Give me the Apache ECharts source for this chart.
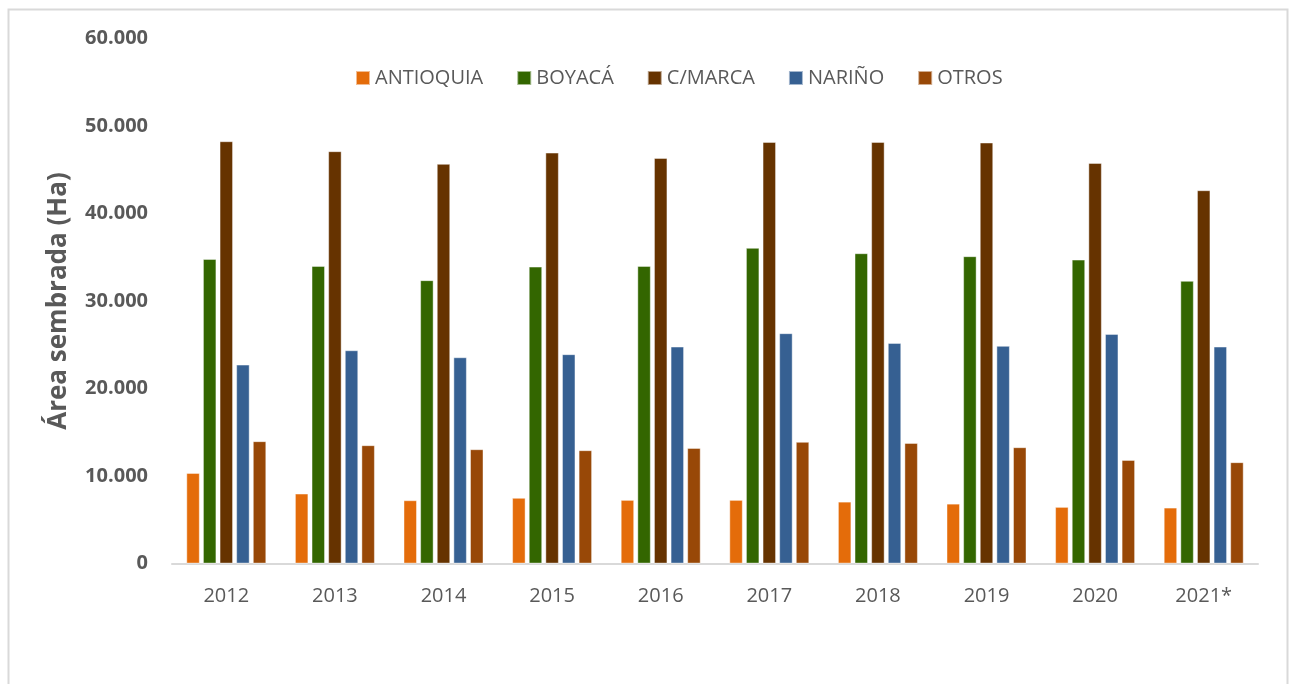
<!DOCTYPE html>
<html>
<head>
<meta charset="utf-8">
<script src="https://cdn.jsdelivr.net/npm/echarts@6/dist/echarts.min.js"></script>
<style>
html,body{margin:0;padding:0;background:#fff;}
#chart{width:1295px;height:684px;}
</style>
</head>
<body>
<div id="chart"></div>
<script>
const years = ['2012','2013','2014','2015','2016','2017','2018','2019','2020','2021*'];
const antioquia = [10340, 7980, 7220, 7490, 7260, 7260, 7060, 6830, 6460, 6380];
const boyaca    = [34800, 34000, 32370, 33920, 34000, 36060, 35450, 35110, 34720, 32290];
const cmarca    = [48250, 47110, 45660, 46950, 46340, 48170, 48170, 48100, 45770, 42650];
const narino    = [22720, 24360, 23560, 23910, 24780, 26310, 25200, 24860, 26230, 24780];
const otros     = [13970, 13510, 13050, 12940, 13200, 13890, 13770, 13280, 11830, 11570];
const seriesNames = ['ANTIOQUIA','BOYACÁ','C/MARCA','NARIÑO','OTROS'];
const seriesData = [antioquia, boyaca, cmarca, narino, otros];
const colors = ['#E46C0A','#336600','#663300','#366092','#984807'];

const chart = echarts.init(document.getElementById('chart'));
const FONT = "'Open Sans', sans-serif";
chart.setOption({
  animation: false,
  color: colors,
  textStyle: {fontFamily: FONT},
  graphic: [{
    type: 'rect',
    shape: {x: 8.5, y: 9.5, width: 1279, height: 700},
    style: {fill: 'none', stroke: '#D9D9D9', lineWidth: 2},
    silent: true
  }],
  legend: {
    left: 350, top: 63,
    itemWidth: 14, itemHeight: 14, itemGap: 33,
    icon: 'rect',
    textStyle: {fontSize: 20, color: '#595959', fontFamily: FONT},
    data: seriesNames
  },
  grid: {left: 172, right: 37, top: 38.5, bottom: 120.5, containLabel: false},
  xAxis: {
    type: 'category',
    data: years,
    axisLine: {lineStyle: {color: '#D9D9D9', width: 2}},
    axisTick: {show: false},
    axisLabel: {fontSize: 20, color: '#595959', margin: 23, fontFamily: FONT}
  },
  yAxis: {
    type: 'value',
    min: 0, max: 60000, interval: 10000,
    name: 'Área sembrada (Ha)',
    nameLocation: 'middle',
    nameGap: 100,
    nameTextStyle: {fontSize: 26, fontWeight: 'bold', color: '#595959', fontFamily: FONT},
    axisLine: {show: false},
    axisTick: {show: false},
    splitLine: {show: false},
    axisLabel: {
      fontSize: 20, fontWeight: 'bold', color: '#595959', margin: 24, fontFamily: FONT,
      formatter: v => v === 0 ? '0' : v.toString().replace(/\B(?=(\d{3})+(?!\d))/g, '.')
    }
  },
  series: seriesNames.map((n, i) => ({
    name: n,
    type: 'bar',
    data: seriesData[i],
    barWidth: 13.3,
    barGap: '25%',
    itemStyle: {color: colors[i], borderColor: 'rgba(255,255,255,0.55)', borderWidth: 0.8}
  }))
});
</script>
</body>
</html>
